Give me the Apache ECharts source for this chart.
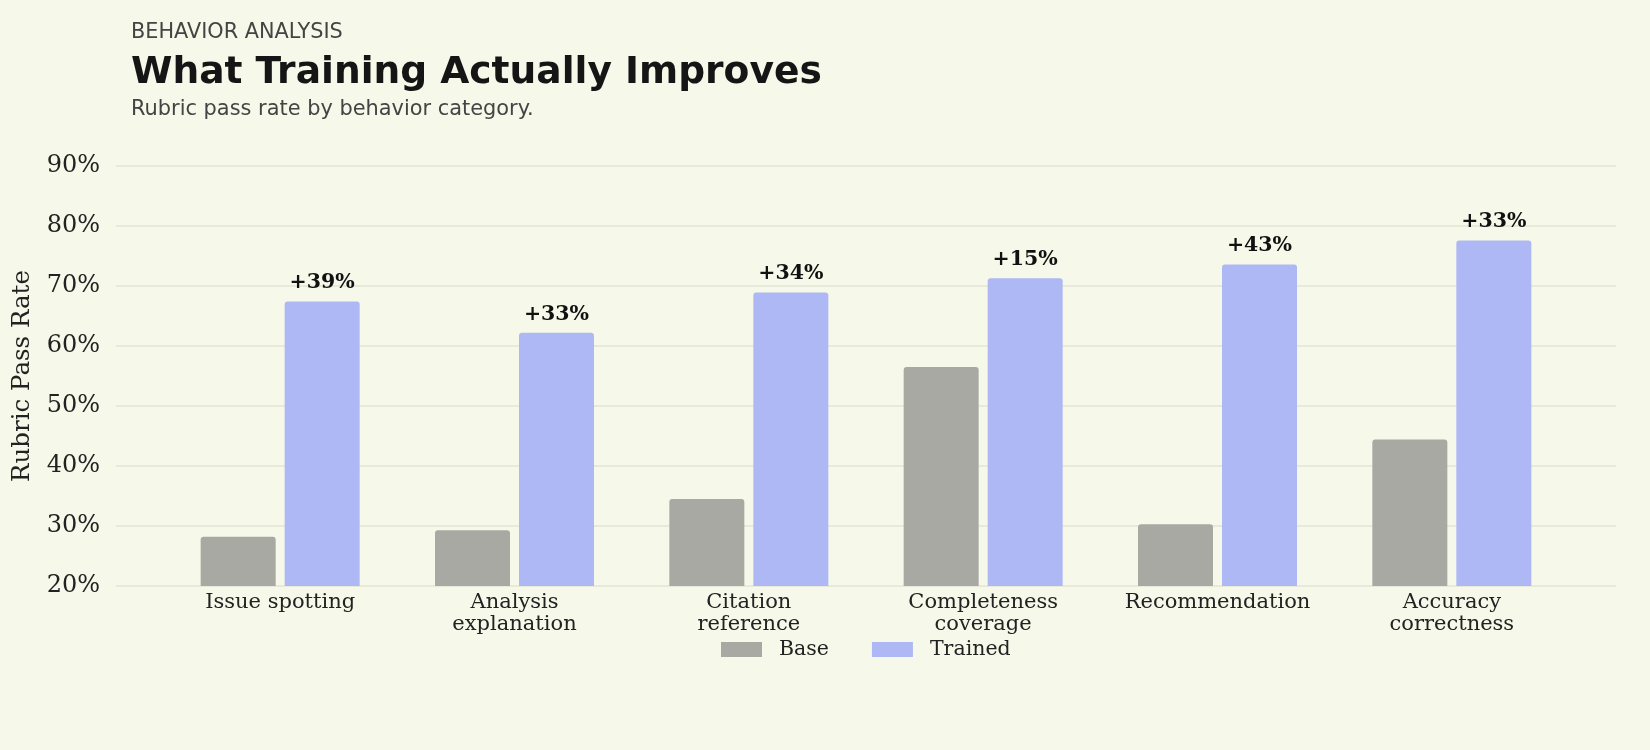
<!DOCTYPE html>
<html lang="en">
<head>
  <meta charset="UTF-8">
  <title>What Training Actually Improves</title>
  <script src="https://cdn.jsdelivr.net/npm/echarts@6/dist/echarts.min.js"></script>
  <style>
    html, body { margin: 0; padding: 0; background: #f6f8e9; }
    #chart { width: 1650px; height: 750px; }
  </style>
</head>
<body>
  <div id="chart"></div>
  <script>
    // data
    const categories = ['Issue spotting', 'Analysis\nexplanation', 'Citation\nreference',
      'Completeness\ncoverage', 'Recommendation', 'Accuracy\ncorrectness']
    const baseValues = [28.2, 29.3, 34.5, 56.5, 30.3, 44.4]
    const trainedValues = [67.4, 62.2, 68.9, 71.3, 73.6, 77.6]
    const yTicks = [20, 30, 40, 50, 60, 70, 80, 90]

    const serif = '"DejaVu Serif", serif'
    const sans = '"DejaVu Sans", sans-serif'
    const yMin = yTicks[0]
    const yMax = yTicks[yTicks.length - 1]

    const myChart = echarts.init(document.getElementById('chart'))

    // title padding is 5 by default, so left is set 5 less
    const option = {
      backgroundColor: '#f6f8e9',
      animation: false,
      title: [
        { text: 'BEHAVIOR ANALYSIS', left: 126, top: 17,
          textStyle: { fontFamily: sans, fontSize: 20.8, fontWeight: 'normal', color: '#444' } },
        { text: 'What Training Actually Improves', left: 126, top: 49,
          textStyle: { fontFamily: sans, fontSize: 37.6, fontWeight: 'bold', color: '#151515' } },
        { text: 'Rubric pass rate by behavior category.', left: 126, top: 94,
          textStyle: { fontFamily: sans, fontSize: 20.9, fontWeight: 'normal', color: '#444' } }
      ],
      legend: {
        data: ['Base', 'Trained'],
        left: 716,
        top: 634,
        itemWidth: 41,
        itemHeight: 15,
        itemGap: 43,
        icon: 'rect',
        textStyle: { fontFamily: serif, fontSize: 20.5, color: '#222', padding: [0, 0, 0, 12] }
      },
      // grid 0 carries the horizontal gridlines across the full width,
      // grid 1 carries the bars (narrower band like the reference's x margins)
      grid: [
        { left: 116, right: 34, top: 166, bottom: 164 },
        { left: 163, right: 81, top: 166, bottom: 164 }
      ],
      xAxis: [
        { type: 'value', gridIndex: 0, show: false, min: 0, max: 1 },
        {
          type: 'category', gridIndex: 1, data: categories,
          axisLine: { show: false }, axisTick: { show: false },
          axisLabel: { fontFamily: serif, fontSize: 21, color: '#222', lineHeight: 22.5, margin: 5, interval: 0 }
        }
      ],
      yAxis: [
        {
          type: 'value', gridIndex: 0, min: yMin, max: yMax, interval: 10,
          name: 'Rubric Pass Rate', nameLocation: 'middle', nameGap: 81, nameRotate: 90,
          nameTextStyle: { fontFamily: serif, fontSize: 24.5, color: '#222' },
          axisLine: { show: false }, axisTick: { show: false },
          axisLabel: { fontFamily: serif, fontSize: 24, color: '#222', margin: 16, padding: [7, 0, 0, 0], formatter: '{value}%' },
          splitLine: { lineStyle: { color: '#e3e5d6', width: 1.5 } }
        },
        {
          type: 'value', gridIndex: 1, min: yMin, max: yMax, interval: 10, show: false,
          splitLine: { show: false }
        }
      ],
      series: [
        {
          name: 'Base', type: 'bar', xAxisIndex: 1, yAxisIndex: 1,
          data: baseValues, barWidth: 75, barGap: '12%',
          itemStyle: { color: '#a8a9a3', borderRadius: [3, 3, 0, 0] }
        },
        {
          name: 'Trained', type: 'bar', xAxisIndex: 1, yAxisIndex: 1,
          data: trainedValues, barWidth: 75, barGap: '12%',
          itemStyle: { color: '#adb8f4', borderRadius: [3, 3, 0, 0] },
          label: {
            show: true, position: 'top', distance: 8,
            fontFamily: serif, fontSize: 20.5, fontWeight: 'bold', color: '#111',
            formatter: p => '+' + Math.round(trainedValues[p.dataIndex] - baseValues[p.dataIndex]) + '%'
          }
        }
      ]
    }

    myChart.setOption(option)
  </script>
</body>
</html>
